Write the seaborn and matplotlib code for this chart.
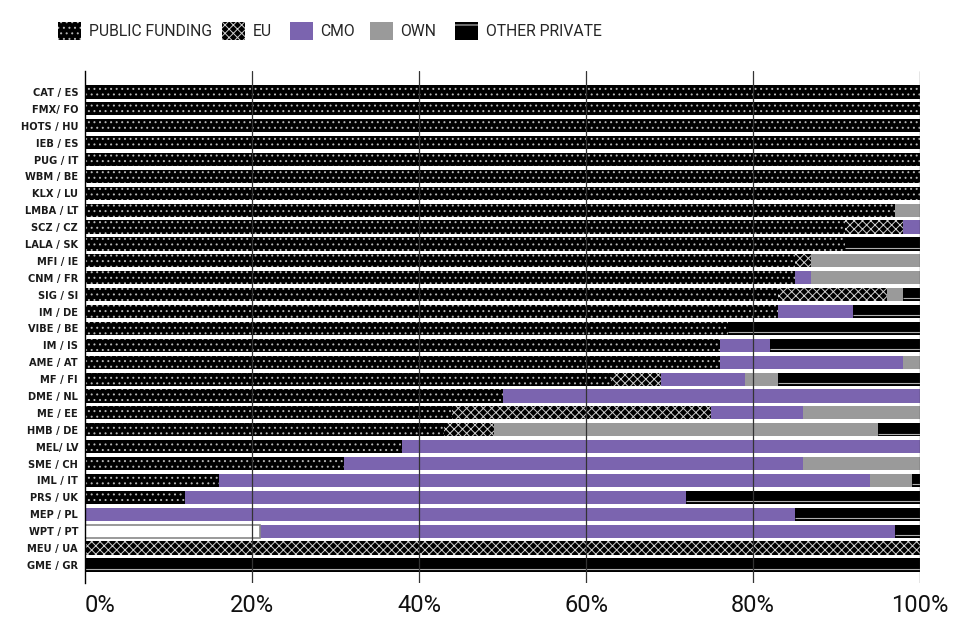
import numpy as np
import pandas as pd
import seaborn as sns
import matplotlib.pyplot as plt
from matplotlib.patches import Patch

# data: share of funding per organisation (%)
labels = ["CAT / ES", "FMX/ FO", "HOTS / HU", "IEB / ES", "PUG / IT", "WBM / BE", "KLX / LU",
          "LMBA / LT", "SCZ / CZ", "LALA / SK", "MFI / IE", "CNM / FR", "SIG / SI", "IM / DE",
          "VIBE / BE", "IM / IS", "AME / AT", "MF / FI", "DME / NL", "ME / EE", "HMB / DE",
          "MEL/ LV", "SME / CH", "IML / IT", "PRS / UK", "MEP / PL", "WPT / PT", "MEU / UA",
          "GME / GR"]
unassigned = [0, 0, 0, 0, 0, 0, 0, 0, 0, 0, 0, 0, 0, 0, 0, 0, 0, 0, 0, 0, 0, 0, 0, 0, 0, 0, 21, 0, 0]
public = [100, 100, 100, 100, 100, 100, 100, 97, 91, 91, 85, 85, 83, 83, 77, 76, 76, 63, 50, 44, 43,
          38, 31, 16, 12, 0, 0, 0, 0]
eu = [0, 0, 0, 0, 0, 0, 0, 0, 7, 0, 2, 0, 13, 0, 0, 0, 0, 6, 0, 31, 6, 0, 0, 0, 0, 0, 0, 100, 0]
cmo = [0, 0, 0, 0, 0, 0, 0, 0, 2, 0, 0, 2, 0, 9, 0, 6, 22, 10, 50, 11, 0, 62, 55, 78, 60, 85, 76, 0, 0]
own = [0, 0, 0, 0, 0, 0, 0, 3, 0, 0, 13, 13, 2, 0, 0, 0, 2, 4, 0, 14, 46, 0, 14, 5, 0, 0, 0, 0, 0]
other = [0, 0, 0, 0, 0, 0, 0, 0, 0, 9, 0, 0, 2, 8, 23, 18, 0, 17, 0, 0, 5, 0, 0, 1, 28, 15, 3, 0, 100]

df = pd.DataFrame({'org': labels, 'unassigned': unassigned, 'public': public, 'eu': eu,
                   'cmo': cmo, 'own': own, 'other': other})

order = ['unassigned', 'public', 'eu', 'cmo', 'own', 'other']
cum = df[order].cumsum(axis=1)

sns.set_style('white')
plt.rcParams['font.family'] = ['Roboto', 'DejaVu Sans']
plt.rcParams['hatch.linewidth'] = 0.7

purple = '#7b64af'
grey = '#9a9a9a'

fig = plt.figure(figsize=(9.6, 6.23), dpi=100)
ax = fig.add_axes([85 / 960, 1 - 583 / 623, 835 / 960, 512 / 623])

# stacked bars by overdrawing cumulative totals, widest first
styles = {
    'other': dict(color='black'),
    'own': dict(color=grey),
    'cmo': dict(color=purple),
    'eu': dict(color='black', hatch='xxxx', edgecolor='#cfcfcf'),
    'public': dict(color='black', hatch='...', edgecolor='#b5b5b5'),
    'unassigned': dict(color='white', edgecolor='#888888'),
}
for key in order[::-1]:
    st = dict(styles[key])
    lw = 1.2 if key == 'unassigned' else 0
    sns.barplot(x=cum[key], y=df['org'], orient='h', order=labels, saturation=1,
                errorbar=None, width=0.78, linewidth=lw, ax=ax, **st)

# thin line inside the "other private" segments
start = cum['own'].values
for i, v in enumerate(other):
    if v > 0:
        ax.hlines(i + 0.22, start[i], 100, color='#b0b0b0', lw=0.8)

ax.set_xlim(0, 100)
ax.set_ylim(29.07, -1.24)
ax.set_xlabel('')
ax.set_ylabel('')
ax.set_xticks([0, 20, 40, 60, 80, 100])
ax.set_xticklabels(['0%', '20%', '40%', '60%', '80%', '100%'], fontsize=17, color='#111111')
ax.get_xticklabels()[0].set_ha('left')
ax.tick_params(axis='x', length=0, pad=8)
ax.tick_params(axis='y', length=0, pad=5)
for t in ax.get_yticklabels():
    t.set_fontfamily('DejaVu Sans')
    t.set_fontweight('bold')
    t.set_fontsize(7.1)
    t.set_color('#1a1a1a')
for x in [20, 40, 60, 80, 100]:
    ax.axvline(x, color='#333333', lw=0.9, zorder=5)
sns.despine(ax=ax, top=True, right=True, bottom=True)
ax.spines['left'].set_color('black')
ax.spines['left'].set_linewidth(1.0)

# legend
handles = [
    Patch(facecolor='black', hatch='...', edgecolor='#b5b5b5', lw=0),
    Patch(facecolor='black', hatch='xxxx', edgecolor='#cfcfcf', lw=0),
    Patch(facecolor=purple, lw=0),
    Patch(facecolor=grey, lw=0),
    Patch(facecolor='black', hatch='-', edgecolor='#dddddd', lw=0),
]
names = ['PUBLIC FUNDING', 'EU', 'CMO', 'OWN', 'OTHER PRIVATE']
xpos = [58, 222, 290, 370, 455]
for h, n, xp in zip(handles, names, xpos):
    fig.legend([h], [n], loc='center left', bbox_to_anchor=(xp / 960, 1 - 31 / 623),
               frameon=False, borderpad=0, borderaxespad=0, fontsize=11.3,
               handlelength=1.45, handleheight=1.45, handletextpad=0.5)

fig.savefig('out.png', dpi=100)
